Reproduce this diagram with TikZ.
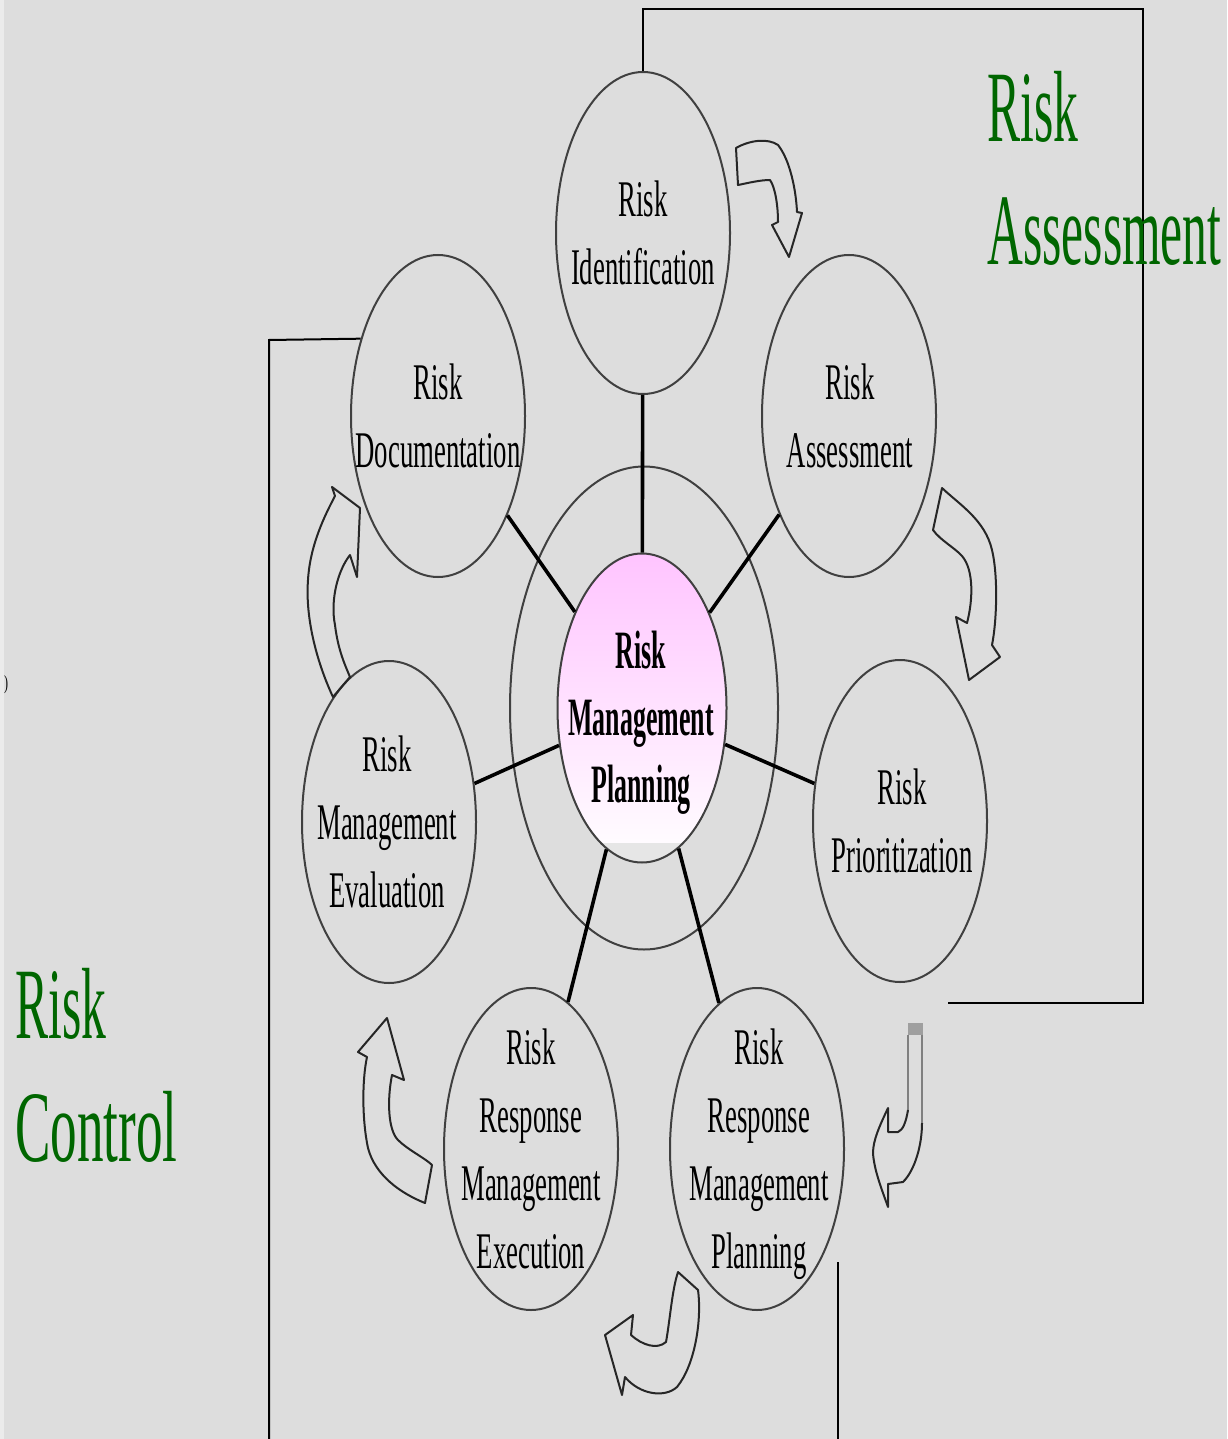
\documentclass[tikz,border=0pt]{standalone}
\usepackage{fontspec}
\setmainfont{Liberation Serif}
\usepackage{graphicx}
\usetikzlibrary{shapes.geometric}
\definecolor{bg}{HTML}{DDDDDD}
\definecolor{stripc}{HTML}{EBEBEB}
\definecolor{pinkc}{HTML}{FFC4FF}
\definecolor{lowgray}{HTML}{E6E6E6}
\definecolor{greenc}{HTML}{006600}
\newcommand{\nar}[1]{\scalebox{0.52}[1]{#1}}
\newcommand{\narb}[1]{\scalebox{0.48}[1]{#1}}
\newcommand{\narg}[2][0.49]{\scalebox{#1}[1]{#2}}
\begin{document}
\begin{tikzpicture}[x=0.5pt,y=-0.5pt,
 oval/.style={ellipse, draw=black!75, line width=1pt, inner sep=0pt, minimum width=87pt, minimum height=161pt},
 otext/.style={align=center, inner sep=0pt, text depth=0pt, font=\fontsize{25.7}{34}\selectfont},
 ctext/.style={align=center, inner sep=0pt, text depth=0pt, font=\bfseries\fontsize{27}{33.5}\selectfont},
 gtext/.style={align=left, inner sep=0pt, text depth=0pt, anchor=south west, text=greenc, font=\fontsize{50.6}{61.5}\selectfont},
 spoke/.style={line width=1.8pt, black},
 bracket/.style={line width=1pt, black},
 curvarrow/.style={line width=1pt, draw=black!85, line join=round},
]
\useasboundingbox (0,0) rectangle (1227,1439);
\fill[bg] (0,0) rectangle (1227,1439);
\fill[stripc] (0,0) rectangle (4,1439);

% ring
\node[ellipse, draw=black!75, line width=1pt, inner sep=0pt, minimum width=134pt, minimum height=241.5pt] (ring) at (644,708) {};

% outer ellipses
\node[oval] (n1) at (643,233) {};
\node[oval] (n2) at (849,416) {};
\node[oval] (n3) at (900,821) {};
\node[oval] (n4) at (757,1149) {};
\node[oval] (n5) at (531,1149) {};
\node[oval] (n6) at (389,822) {};
\node[oval] (n7) at (438,416) {};

% centre fill
\shade[top color=pinkc, bottom color=white] (642,708) ellipse [x radius=84.5, y radius=154.5];
\begin{scope}
\clip (642,708) ellipse [x radius=84.5, y radius=154.5];
\fill[lowgray] (550,843) rectangle (735,870);
\end{scope}
\node[ellipse, draw=black!75, line width=1pt, inner sep=0pt, minimum width=84.5pt, minimum height=154.5pt] (c) at (642,708) {};

% spokes
\draw[spoke] (c) -- (n1);
\draw[spoke] (c) -- (n2);
\draw[spoke] (c) -- (n3);
\draw[spoke] (c) -- (n4);
\draw[spoke] (c) -- (n5);
\draw[spoke] (c) -- (n6);
\draw[spoke] (c) -- (n7);

% texts
\node[otext] (t1) at (643,233) {\nar{Risk}\\\nar{Identification}};
\node[otext] (t2) at (850,416) {\nar{Risk}\\\nar{Assessment}};
\node[otext] (t3) at (902,821) {\nar{Risk}\\\nar{Prioritization}};
\node[otext] (t4) at (759,1149) {\nar{Risk}\\\nar{Response}\\\nar{Management}\\\nar{Planning}};
\node[otext] (t5) at (531,1149) {\nar{Risk}\\\nar{Response}\\\nar{Management}\\\nar{Execution}};
\node[otext] (t6) at (387,822) {\nar{Risk}\\\nar{Management}\\\nar{Evaluation}};
\node[otext] (t7) at (438,416) {\nar{Risk}\\\nar{Documentation}};
\node[ctext] (ct) at (641,717) {\narb{Risk}\\\narb{Management}\\\narb{Planning}};

% curved block arrows
\draw[curvarrow] (736,148) .. controls (750,140) and (768,138) .. (778,145) .. controls (790,160) and (796,190) .. (797,212) -- (802,213) -- (789,257) -- (772,225) -- (778,222) .. controls (778,205) and (775,187) .. (770,180) .. controls (760,180) and (748,183) .. (738,185) -- cycle;
\draw[curvarrow] (942,488) .. controls (960,505) and (985,520) .. (992,550) .. controls (998,575) and (997,620) .. (992,645) -- (1000,657) -- (969,680) -- (956,617) -- (967,623) .. controls (973,600) and (974,570) .. (962,556) .. controls (955,548) and (940,540) .. (933,530) -- cycle;
\fill[gray!75] (908,1023) rectangle (923,1035);
\draw[line width=1pt, gray] (908,1035) -- (908,1110);
\draw[line width=1pt, gray] (922,1035) -- (922,1123);
\draw[curvarrow] (908,1110) .. controls (906,1122) and (903,1130) .. (898,1132) -- (888,1132) -- (888,1108) .. controls (880,1125) and (873,1140) .. (873,1153) .. controls (874,1170) and (882,1190) .. (888,1207) -- (888,1184) -- (903,1182) .. controls (915,1170) and (922,1145) .. (922,1123);
\draw[curvarrow] (678,1272) -- (698,1290) .. controls (702,1320) and (695,1365) .. (677,1387) .. controls (665,1398) and (640,1395) .. (625,1377) -- (622,1395) -- (605,1335) -- (633,1315) -- (631,1335) .. controls (642,1345) and (657,1350) .. (666,1342) .. controls (670,1320) and (672,1290) .. (678,1272) -- cycle;
\draw[curvarrow] (387,1018) -- (404,1080) -- (392,1075) .. controls (387,1100) and (388,1130) .. (398,1140) .. controls (408,1150) and (425,1158) .. (432,1165) -- (425,1203) .. controls (400,1193) and (375,1175) .. (368,1148) .. controls (362,1120) and (362,1080) .. (367,1057) -- (358,1052) -- cycle;
\draw[curvarrow] (360,508) -- (357,577) -- (350,555) .. controls (338,570) and (330,600) .. (335,625) .. controls (338,650) and (345,665) .. (350,677) -- (333,697) .. controls (318,665) and (305,620) .. (308,580) .. controls (310,545) and (325,515) .. (335,496) -- (332,487) -- cycle;

% brackets
\coordinate (ta) at (645,9);
\coordinate (tb) at (1143,9);
\coordinate (tc) at (1143,1003);
\coordinate (td) at (948,1003);
\draw[bracket] (n1.north) |- (tb) -- (tc) -- (td);
\coordinate (la) at (269,340);
\coordinate (lb) at (269,1439);
\draw[bracket] (n7.135) -- (la) -- (lb);
\coordinate (ra) at (838,1262);
\coordinate (rb) at (838,1439);
\draw[bracket] (ra) -- (rb);

% green labels
\node[gtext] (ga) at (987,265) {\narg{Risk}\\\narg{Assessment}};
\node[gtext] (gc) at (15,1162) {\narg{Risk}\\\narg[0.525]{Control}};

% stray glyph at left edge
\node[inner sep=0pt, font=\fontsize{10}{10}\selectfont] (par) at (6,685) {\scalebox{0.6}[1]{)}};
\end{tikzpicture}
\end{document}
